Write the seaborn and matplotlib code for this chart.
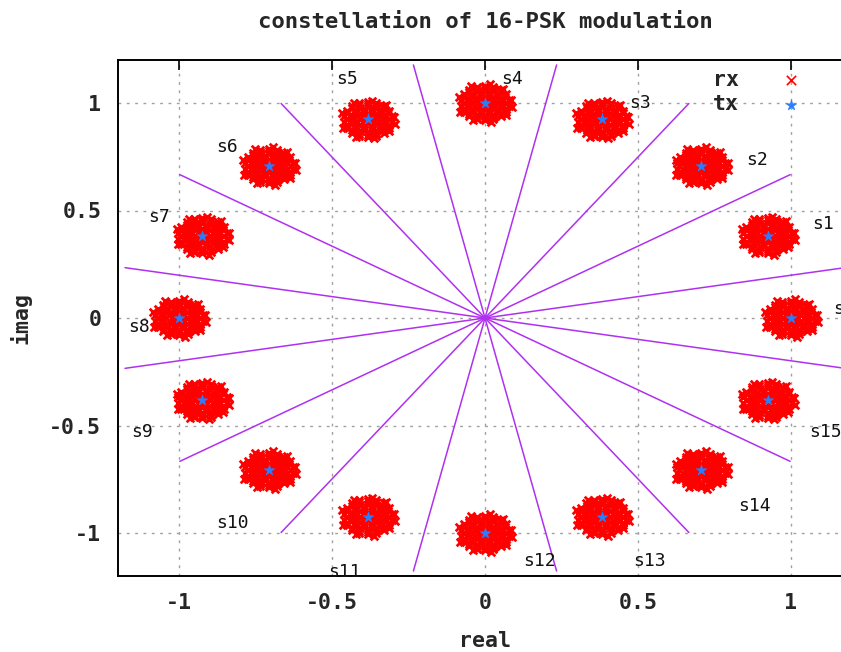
import numpy as np
import pandas as pd
import matplotlib
matplotlib.use('Agg')
import matplotlib.pyplot as plt
import seaborn as sns

# transmitted 16-PSK symbols s0..s15
tx_re = [1.0, 0.924, 0.707, 0.383, 0.0, -0.383, -0.707, -0.924,
         -1.0, -0.924, -0.707, -0.383, 0.0, 0.383, 0.707, 0.924]
tx_im = [0.0, 0.383, 0.707, 0.924, 1.0, 0.924, 0.707, 0.383,
         0.0, -0.383, -0.707, -0.924, -1.0, -0.924, -0.707, -0.383]

# spread of the received cloud around each symbol
noise_re = [0.0,
            0.025, 0.0125, -0.0125, -0.025, -0.0125, 0.0125,
            0.048, 0.035, 0.013, -0.013, -0.035, -0.048, -0.048, -0.035, -0.013, 0.013, 0.035, 0.048,
            0.072, 0.067, 0.051, 0.028, 0.0, -0.028, -0.051, -0.067, -0.072, -0.067, -0.051, -0.028,
            0.0, 0.028, 0.051, 0.067,
            0.086, 0.060, 0.015, -0.045, -0.084, -0.081, -0.040, 0.020, 0.068, 0.088,
            0.0085, -0.0085, -0.0085, 0.0085,
            0.034, 0.014, -0.014, -0.034, -0.034, -0.014, 0.014, 0.034,
            0.0585, 0.0469, 0.026, 0.0, -0.026, -0.0469, -0.0585, -0.0585, -0.0469, -0.026, 0.0, 0.026, 0.0469, 0.0585,
            0.0788, 0.0693, 0.0514, 0.0274, 0.0, -0.0274, -0.0514, -0.0693, -0.0788,
            -0.0788, -0.0693, -0.0514, -0.0274, 0.0, 0.0274, 0.0514, 0.0693, 0.0788]
noise_im = [0.0,
            0.0, 0.022, 0.022, 0.0, -0.022, -0.022,
            0.013, 0.035, 0.048, 0.048, 0.035, 0.013, -0.013, -0.035, -0.048, -0.048, -0.035, -0.013,
            0.0, 0.028, 0.051, 0.067, 0.072, 0.067, 0.051, 0.028, 0.0, -0.028, -0.051, -0.067,
            -0.072, -0.067, -0.051, -0.028,
            0.012, 0.066, 0.087, 0.077, 0.030, -0.041, -0.080, -0.088, -0.055, -0.020,
            0.0085, 0.0085, -0.0085, -0.0085,
            0.014, 0.034, 0.034, 0.014, -0.014, -0.034, -0.034, -0.014,
            0.0134, 0.0374, 0.054, 0.06, 0.054, 0.0374, 0.0134, -0.0134, -0.0374, -0.054, -0.06, -0.054, -0.0374, -0.0134,
            0.0139, 0.04, 0.0613, 0.0752, 0.08, 0.0752, 0.0613, 0.04, 0.0139,
            -0.0139, -0.04, -0.0613, -0.0752, -0.08, -0.0752, -0.0613, -0.04, -0.0139]

# decision boundaries (degrees) and their length
bound_deg = [11.25, 33.75, 56.25, 78.75, 101.25, 123.75, 146.25, 168.75,
             191.25, 213.75, 236.25, 258.75, 281.25, 303.75, 326.25, 348.75]
bound_len = 1.2

sym_names = ['s0', 's1', 's2', 's3', 's4', 's5', 's6', 's7',
             's8', 's9', 's10', 's11', 's12', 's13', 's14', 's15']
label_x = [1.14, 1.07, 0.853, 0.47, 0.052, -0.487, -0.88, -1.10,
           -1.167, -1.157, -0.88, -0.513, 0.124, 0.484, 0.827, 1.06]
label_y = [0.04, 0.435, 0.736, 1.0, 1.11, 1.11, 0.796, 0.472,
           -0.042, -0.528, -0.954, -1.18, -1.13, -1.13, -0.875, -0.528]

rx = pd.DataFrame({
    're': [tr + dr for tr in tx_re for dr in noise_re],
    'im': [ti + di for ti in tx_im for di in noise_im],
})
tx = pd.DataFrame({'re': tx_re, 'im': tx_im})

sns.set_style('white')
mono = 'DejaVu Sans Mono'

fig = plt.figure(figsize=(8.41, 6.52), dpi=100)
ax = fig.add_axes([118/841, 76/652, 734/841, 516/652])

ax.grid(True, color='#a0a0a0', linestyle=(0, (2, 4)), linewidth=1)
ax.set_axisbelow(True)

for d in bound_deg:
    a = np.deg2rad(d)
    ax.plot([0, bound_len*np.cos(a)], [0, bound_len*np.sin(a)], color='#b030f0', lw=1.1, zorder=2)

sns.scatterplot(data=rx, x='re', y='im', marker='x', color='#ff0000', s=30,
                linewidth=2.0, ax=ax, zorder=3, label='rx')
sns.scatterplot(data=tx, x='re', y='im', marker='*', color='#2a7fff', s=60,
                linewidth=0.5, edgecolor='#2a7fff', ax=ax, zorder=4, label='tx')

for n, lx, ly in zip(sym_names, label_x, label_y):
    ax.text(lx, ly, n, ha='left', va='center', family=mono, fontsize=13, color='#111111')

ax.set_xlim(-1.2, 1.2)
ax.set_ylim(-1.2, 1.2)
ax.set_xticks([-1, -0.5, 0, 0.5, 1])
ax.set_yticks([-1, -0.5, 0, 0.5, 1])
ax.set_xticklabels(['-1', '-0.5', '0', '0.5', '1'])
ax.set_yticklabels(['-1', '-0.5', '0', '0.5', '1'])
ax.tick_params(direction='in', length=7, width=1.2, top=True, right=True,
               labelsize=15.5, pad=12, color='black')
for t in ax.get_xticklabels() + ax.get_yticklabels():
    t.set_fontfamily(mono)
    t.set_fontweight('bold')
for s in ax.spines.values():
    s.set_color('black')
    s.set_linewidth(1.4)

ax.set_xlabel('real', family=mono, fontweight='bold', fontsize=15.5, labelpad=13)
ax.set_ylabel('imag', family=mono, fontweight='bold', fontsize=15.5, labelpad=13)
ax.set_title('constellation of 16-PSK modulation', family=mono, fontweight='bold',
             fontsize=16, pad=23)

leg = ax.legend(loc='upper right', bbox_to_anchor=(0.972, 1.018), frameon=False,
                markerfirst=False, handletextpad=1.4, labelspacing=0.2,
                prop={'family': mono, 'weight': 'bold', 'size': 15.5})
leg.legend_handles[0].set_sizes([45])
leg.legend_handles[0].set_linewidth(1.2)

fig.savefig('out.png', dpi=100)
